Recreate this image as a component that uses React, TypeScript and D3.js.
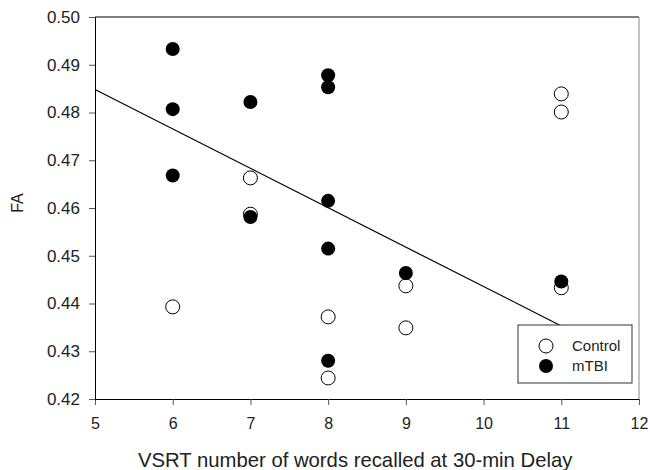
import React, { useEffect, useRef } from "react";
import * as d3 from "d3";

const xTicks = [5, 6, 7, 8, 9, 10, 11, 12];
const yTicks = [0.42, 0.43, 0.44, 0.45, 0.46, 0.47, 0.48, 0.49, 0.5];

const mtbiX = [6, 6, 6, 7, 7, 8, 8, 8, 8, 8, 9, 11];
const mtbiY = [0.4933, 0.4807, 0.4668, 0.4822, 0.4581, 0.4878, 0.4853, 0.4615, 0.4515, 0.428, 0.4464, 0.4446];

const controlX = [6, 7, 7, 8, 8, 9, 9, 11, 11, 11];
const controlY = [0.4393, 0.4663, 0.4587, 0.4372, 0.4244, 0.4437, 0.4349, 0.4839, 0.4801, 0.4433];

const fitX = [5, 11];
const fitY = [0.4848, 0.4353];

const App = () => {
    const chartRef = useRef<HTMLDivElement>(null);

    useEffect(() => {
        const width = 650;
        const height = 470;
        const margin = { top: 17, right: 11, bottom: 71, left: 95 };

        d3.select(chartRef.current).select("svg").remove();

        const svg = d3
            .select(chartRef.current)
            .append("svg")
            .attr("width", width)
            .attr("height", height)
            .style("display", "block")
            .style("font-family", "'Liberation Sans', Arial, sans-serif");

        const xScale = d3.scaleLinear().domain([5, 12]).range([margin.left, width - margin.right]);
        const yScale = d3.scaleLinear().domain([0.42, 0.5]).range([height - margin.bottom, margin.top]);

        const x0 = margin.left;
        const x1 = width - margin.right;
        const y0 = height - margin.bottom;
        const y1 = margin.top;

        // frame: top and right lines
        svg.append("line").attr("x1", x0).attr("x2", x1).attr("y1", y1).attr("y2", y1).attr("stroke", "#000");
        svg.append("line").attr("x1", x1).attr("x2", x1).attr("y1", y1).attr("y2", y0).attr("stroke", "#888");

        const xAxis = svg.append("g")
            .attr("transform", `translate(0,${y0})`)
            .call(d3.axisBottom(xScale).tickValues(xTicks).tickFormat(d3.format("d")).tickSizeOuter(0).tickSize(6).tickPadding(13));
        xAxis.selectAll("text").style("font-size", "16px").attr("fill", "#222");

        const yAxis = svg.append("g")
            .attr("transform", `translate(${x0},0)`)
            .call(d3.axisLeft(yScale).tickValues(yTicks).tickFormat(d3.format(".2f")).tickSizeOuter(0).tickSize(6).tickPadding(9));
        yAxis.selectAll("text").style("font-size", "17px").attr("fill", "#222");

        svg.selectAll(".domain").attr("stroke", "#000");
        svg.selectAll(".tick line").attr("stroke", "#555");

        // regression line
        svg.append("line")
            .attr("x1", xScale(fitX[0]))
            .attr("y1", yScale(fitY[0]))
            .attr("x2", xScale(fitX[1]))
            .attr("y2", yScale(fitY[1]))
            .attr("stroke", "#000")
            .attr("stroke-width", 1.2);

        const r = 7;

        // open circles first, filled ones drawn on top
        svg.selectAll(".control")
            .data(controlX.map((x, i) => [x, controlY[i]]))
            .enter()
            .append("circle")
            .attr("cx", (d) => xScale(d[0]))
            .attr("cy", (d) => yScale(d[1]))
            .attr("r", r)
            .attr("fill", "#fff")
            .attr("stroke", "#000")
            .attr("stroke-width", 1);

        svg.selectAll(".mtbi")
            .data(mtbiX.map((x, i) => [x, mtbiY[i]]))
            .enter()
            .append("circle")
            .attr("cx", (d) => xScale(d[0]))
            .attr("cy", (d) => yScale(d[1]))
            .attr("r", r)
            .attr("fill", "#000");

        // legend
        const legend = svg.append("g").attr("transform", "translate(518,325)");
        legend.append("rect").attr("width", 114).attr("height", 58).attr("fill", "#fff").attr("stroke", "#333");
        legend.append("circle").attr("cx", 28).attr("cy", 21).attr("r", r).attr("fill", "#fff").attr("stroke", "#000");
        legend.append("circle").attr("cx", 28).attr("cy", 41).attr("r", r).attr("fill", "#000");
        legend.append("text").attr("x", 54).attr("y", 26).style("font-size", "15px").attr("fill", "#222").text("Control");
        legend.append("text").attr("x", 54).attr("y", 46).style("font-size", "15px").attr("fill", "#222").text("mTBI");

        // axis titles
        svg.append("text")
            .attr("x", 138)
            .attr("y", 467)
            .style("font-size", "20.3px")
            .attr("fill", "#222")
            .text("VSRT number of words recalled at 30-min Delay");

        svg.append("text")
            .attr("transform", "translate(23,203) rotate(-90)")
            .attr("text-anchor", "middle")
            .style("font-size", "16px")
            .attr("fill", "#222")
            .text("FA");
    }, []);

    return <div ref={chartRef} style={{ position: "absolute", top: 0, left: 0 }}></div>;
};

export default App;
